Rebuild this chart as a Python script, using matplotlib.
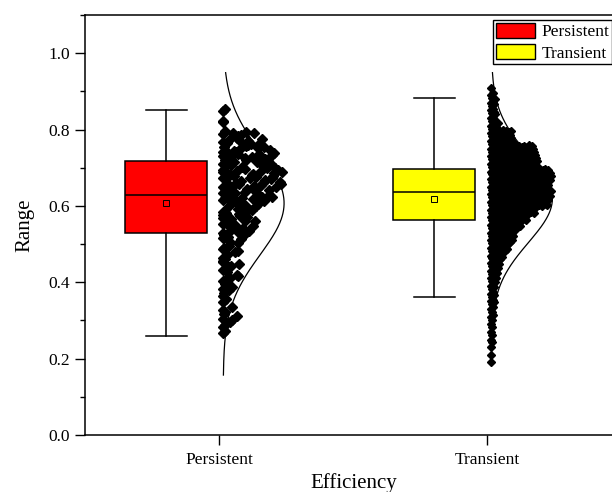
#!/usr/bin/env python3
"""Half box + dot distribution + normal curve, Persistent vs Transient."""

import matplotlib
matplotlib.use("Agg")
import matplotlib.pyplot as plt
from matplotlib.patches import Patch
from matplotlib.ticker import MultipleLocator, FormatStrFormatter
import numpy as np

plt.rcParams["font.family"] = ["Liberation Serif", "DejaVu Serif"]

# ---------------------------------------------------------------------------
# Data
# ---------------------------------------------------------------------------

categories = ["Persistent", "Transient"]
box_colors = ["#ff0000", "#ffff00"]

whislo = [0.260, 0.361]
q1 = [0.530, 0.562]
med = [0.629, 0.637]
q3 = [0.717, 0.697]
whishi = [0.850, 0.882]
means = [0.607, 0.619]

# normal curve parameters and the y span each curve is drawn over
curve_mu = [0.607, 0.619]
curve_sd = [0.135, 0.115]
curve_lo = [0.157, 0.200]
curve_hi = [0.949, 0.949]

# raw points as counts in 0.02-wide bins
BIN_W = 0.02
persistent_bin_lo = 0.26
persistent_counts = [2, 3, 4, 3, 2, 3, 3, 4, 4, 4, 4, 4, 5, 6, 7, 7, 8, 9,
                     11, 12, 12, 12, 12, 11, 10, 9, 7, 1, 1, 2]
transient_bin_lo = 0.18
transient_counts = [1, 1, 1, 2, 2, 2, 3, 3, 4, 4, 5, 6, 8, 9, 12, 17, 22, 24,
                    30, 37, 45, 58, 60, 58, 60, 59, 47, 46, 44, 22, 21, 8, 5,
                    4, 5, 3, 1]

# ---------------------------------------------------------------------------
# Layout
# ---------------------------------------------------------------------------

BOX_SHIFT = -0.198
BOX_W = 0.306
DOT_BASE = 0.015
DOT_W = 0.22
CURVE_AMP = 0.227


def halton(k, base):
    f, r = 1.0, 0.0
    while k > 0:
        f /= base
        r += f * (k % base)
        k //= base
    return r


def stacked_dots(x0, lo, counts):
    """Dense series: points of a bin stacked sideways, width ~ count."""
    nmax = max(counts)
    step = DOT_W / (nmax - 1)
    xs, ys = [], []
    for b, n in enumerate(counts):
        for i in range(n):
            xs.append(x0 + DOT_BASE + i * step)
            ys.append(lo + b * BIN_W + BIN_W * ((0.5 + i * 0.618034) % 1.0))
    return np.array(xs), np.array(ys)


def spread_dots(x0, lo, counts):
    """Sparse series: points scattered over a bin width ~ count."""
    nmax = max(counts)
    xs, ys = [], []
    k = 1
    for b, n in enumerate(counts):
        wid = DOT_W * (n - 1) / (nmax - 1)
        for i in range(n):
            u = 0.0 if i == 0 else halton(k, 2)
            v = halton(k, 3)
            xs.append(x0 + DOT_BASE + u * wid)
            ys.append(lo + b * BIN_W + BIN_W * v)
            k += 1
    return np.array(xs), np.array(ys)


fig = plt.figure(figsize=(6.12, 4.92), dpi=100)
ax = fig.add_axes([85 / 612, 57 / 492, 536.6 / 612, 420 / 492])

pos = np.arange(1, len(categories) + 1)

stats = [
    dict(whislo=whislo[i], q1=q1[i], med=med[i], q3=q3[i], whishi=whishi[i],
         mean=means[i], fliers=[])
    for i in range(len(categories))
]
bp = ax.bxp(
    stats, positions=pos + BOX_SHIFT, widths=BOX_W, capwidths=BOX_W / 2,
    patch_artist=True, showmeans=True, showfliers=False,
    boxprops=dict(edgecolor="black", linewidth=1.1),
    whiskerprops=dict(color="black", linewidth=1.1),
    capprops=dict(color="black", linewidth=1.1),
    medianprops=dict(color="black", linewidth=1.1),
    meanprops=dict(marker="s", markersize=3.8, markerfacecolor="none",
                   markeredgecolor="black", markeredgewidth=0.7),
    manage_ticks=False,
)
for patch, c in zip(bp["boxes"], box_colors):
    patch.set_facecolor(c)

# normal curves
for i, x0 in enumerate(pos):
    yy = np.linspace(curve_lo[i], curve_hi[i], 300)
    dens = np.exp(-0.5 * ((yy - curve_mu[i]) / curve_sd[i]) ** 2)
    ax.plot(x0 + DOT_BASE + CURVE_AMP * dens, yy, color="black", lw=0.9, zorder=2)

# dots
px, py = spread_dots(pos[0], persistent_bin_lo, persistent_counts)
ax.plot(px, py, ls="none", marker="D", markersize=5.6, color="black", zorder=3)
tx, ty = stacked_dots(pos[1], transient_bin_lo, transient_counts)
ax.plot(tx, ty, ls="none", marker="D", markersize=4.4, color="black", zorder=3)

# axes styling
ax.set_xlim(0.5, 2.5)
ax.set_ylim(0, 1.1)
ax.set_xticks(pos)
ax.set_xticklabels(categories)
ax.yaxis.set_major_locator(MultipleLocator(0.2))
ax.yaxis.set_minor_locator(MultipleLocator(0.1))
ax.yaxis.set_major_formatter(FormatStrFormatter("%.1f"))
ax.tick_params(axis="both", which="major", direction="out", length=7,
               width=1.0, labelsize=12.5, pad=4)
ax.tick_params(axis="x", which="major", pad=5)
ax.tick_params(axis="y", which="minor", direction="out", length=3.5, width=1.0)
ax.tick_params(axis="x", which="minor", bottom=False)
for s in ax.spines.values():
    s.set_linewidth(1.1)

ax.set_xlabel("Efficiency", fontsize=15, labelpad=4)
ax.set_ylabel("Range", fontsize=15, labelpad=10)

handles = [Patch(facecolor=c, edgecolor="black", linewidth=1.0) for c in box_colors]
ax.legend(handles, categories, loc="upper left",
          bbox_to_anchor=(493 / 612, 1 - 20 / 492), bbox_transform=fig.transFigure,
          fontsize=12.5, frameon=True, fancybox=False, edgecolor="black",
          framealpha=1, borderpad=0.15, borderaxespad=0, handlelength=2.25,
          handleheight=1.0, handletextpad=0.4, labelspacing=0.2)

fig.savefig("out.png", dpi=100)
